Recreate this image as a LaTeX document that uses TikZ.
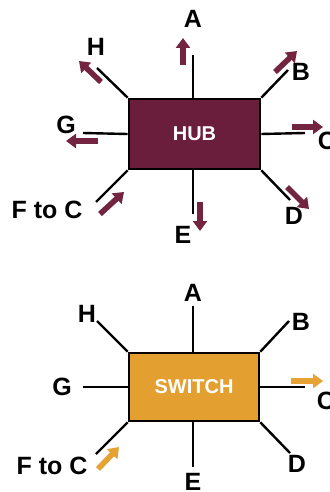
\documentclass[tikz,border=0pt]{standalone}
\usepackage{fontspec}
\setmainfont{Liberation Sans}
\usetikzlibrary{arrows.meta}
\definecolor{hubred}{HTML}{6B1E3B}
\definecolor{hubarrow}{HTML}{722440}
\definecolor{swor}{HTML}{E3A030}
\definecolor{swarrow}{HTML}{E6A232}
\tikzset{
  boxstyle/.style={draw=black, line width=2.6pt, inner sep=0pt, text=white, font=\bfseries\fontsize{20}{20}\selectfont},
  wire/.style={line width=2.4pt, black},
  lbl/.style={inner sep=0pt, font=\bfseries\fontsize{25}{25}\selectfont},
  harrow/.style={line width=5.6pt, hubarrow, -{Triangle[width=14pt,length=10pt]}},
  sarrow/.style={line width=5.6pt, swarrow, -{Triangle[width=14pt,length=10pt]}}
}
\begin{document}
\begin{tikzpicture}[x=1pt,y=-1pt]
\useasboundingbox (0,0) rectangle (329,492);
% ---------- HUB ----------
\node[boxstyle, fill=hubred, minimum width=131pt, minimum height=70pt] (hub) at (194.5,134) {HUB};
\coordinate (hA) at (193,55);
\coordinate (hB) at (288,70);
\coordinate (hC) at (305,133);
\coordinate (hD) at (290,200);
\coordinate (hE) at (193,214);
\coordinate (hF) at (96,202);
\coordinate (hG) at (83,133);
\coordinate (hH) at (97,68);
\draw[wire] (hub.north -| hA) -- (hA);
\draw[wire] (hub.north east) -- (hB);
\draw[wire] (hub.east) -- (hC);
\draw[wire] (hub.south east) -- (hD);
\draw[wire] (hub.south -| hE) -- (hE);
\draw[wire] (hub.south west) -- (hF);
\draw[wire] (hub.west) -- (hG);
\draw[wire] (hub.north west) -- (hH);
\node[lbl] (lhA) at (193,19) {A};
\node[lbl] (lhB) at (301,72) {B};
\node[lbl] (lhC) at (327,141) {C};
\node[lbl] (lhD) at (294,216) {D};
\node[lbl] (lhE) at (183,235) {E};
\node[lbl] (lhF) at (47,210) {F to C};
\node[lbl] (lhG) at (66,125) {G};
\node[lbl] (lhH) at (96,47) {H};
\coordinate (haA1) at (183,65); \coordinate (haA2) at (183,38);
\coordinate (haB1) at (275,72); \coordinate (haB2) at (297,51);
\coordinate (haC1) at (292,127); \coordinate (haC2) at (323,127);
\coordinate (haD1) at (287,187); \coordinate (haD2) at (309,209);
\coordinate (haE1) at (200,202); \coordinate (haE2) at (200,231);
\coordinate (haF1) at (100,214); \coordinate (haF2) at (124,192);
\coordinate (haG1) at (98,141); \coordinate (haG2) at (66,141);
\coordinate (haH1) at (101,82); \coordinate (haH2) at (79,61);
\draw[harrow] (haA1) -- (haA2);
\draw[harrow] (haB1) -- (haB2);
\draw[harrow] (haC1) -- (haC2);
\draw[harrow] (haD1) -- (haD2);
\draw[harrow] (haE1) -- (haE2);
\draw[harrow] (haF1) -- (haF2);
\draw[harrow] (haG1) -- (haG2);
\draw[harrow] (haH1) -- (haH2);
% ---------- SWITCH ----------
\node[boxstyle, fill=swor, minimum width=130pt, minimum height=68pt] (sw) at (194,387) {SWITCH};
\coordinate (sA) at (193,306);
\coordinate (sB) at (289,321);
\coordinate (sC) at (305,387);
\coordinate (sD) at (290,453);
\coordinate (sE) at (193,467);
\coordinate (sF) at (96,454);
\coordinate (sG) at (83,387);
\coordinate (sH) at (97,321);
\draw[wire] (sw.north -| sA) -- (sA);
\draw[wire] (sw.north east) -- (sB);
\draw[wire] (sw.east) -- (sC);
\draw[wire] (sw.south east) -- (sD);
\draw[wire] (sw.south -| sE) -- (sE);
\draw[wire] (sw.south west) -- (sF);
\draw[wire] (sw.west) -- (sG);
\draw[wire] (sw.north west) -- (sH);
\node[lbl] (lsA) at (193,293) {A};
\node[lbl] (lsB) at (301,322) {B};
\node[lbl] (lsC) at (326,401) {C};
\node[lbl] (lsD) at (297,464) {D};
\node[lbl] (lsE) at (193,482) {E};
\node[lbl] (lsF) at (52,466) {F to C};
\node[lbl] (lsG) at (62,387) {G};
\node[lbl] (lsH) at (87,314) {H};
\coordinate (saC1) at (291,381); \coordinate (saC2) at (323,381);
\coordinate (saF1) at (98,469); \coordinate (saF2) at (119,447);
\draw[sarrow] (saC1) -- (saC2);
\draw[sarrow] (saF1) -- (saF2);
\end{tikzpicture}
\end{document}
